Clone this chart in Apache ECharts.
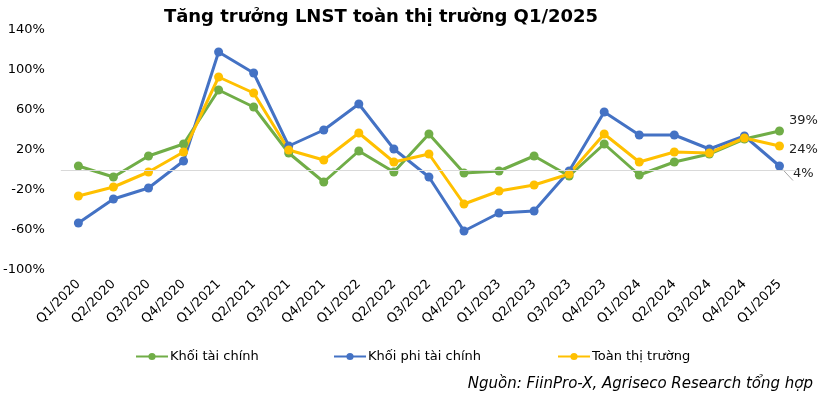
<!DOCTYPE html>
<html><head><meta charset="utf-8">
<script src="https://cdn.jsdelivr.net/npm/echarts@6/dist/echarts.min.js"></script>
<style>html,body{margin:0;padding:0;background:#fff}#c{width:825px;height:397px}</style>
</head><body><div id="c"></div>
<script>
const categories = ["Q1/2020","Q2/2020","Q3/2020","Q4/2020","Q1/2021","Q2/2021","Q3/2021","Q4/2021","Q1/2022","Q2/2022","Q3/2022","Q4/2022","Q1/2023","Q2/2023","Q3/2023","Q4/2023","Q1/2024","Q2/2024","Q3/2024","Q4/2024","Q1/2025"];
const taiChinh = [4, -7, 14, 26, 80, 63, 17, -12, 19, -2, 36, -3, -1, 14, -6, 26, -5, 8, 16, 31, 39];
const phiTaiChinh = [-53, -29, -18, 9, 118, 97, 24, 40, 66, 21, -7, -61, -43, -41, -1, 58, 35, 35, 21, 34, 4];
const toanThiTruong = [-26, -17, -2, 18, 93, 77, 20, 10, 37, 8, 16, -34, -21, -15, -4, 36, 8, 18, 17, 32, 24];
const seriesNames = ['Khối tài chính', 'Khối phi tài chính', 'Toàn thị trường'];

const FONT = "DejaVu Sans";
function withLastLabel(arr, offset, line) {
  return arr.map((v, i) => {
    if (i !== arr.length - 1) return v;
    return {
      value: v,
      label: { show: true, position: 'right', offset: offset, formatter: v + '%', color: '#222', fontSize: 13, fontFamily: FONT },
      labelLine: line ? { show: true, lineStyle: { color: '#a6a6a6', width: 1 } } : { show: false }
    };
  });
}
function series(name, data, color, offset, line) {
  return {
    name, type: 'line', data: withLastLabel(data, offset, line),
    symbol: 'circle', symbolSize: 9,
    lineStyle: { width: 3, color }, itemStyle: { color },
    label: { show: false }
  };
}
const s1 = series(seriesNames[0], taiChinh, '#70ad47', [0, -10], false);
const s2 = series(seriesNames[1], phiTaiChinh, '#4472c4', [4, 8], true);
const s3 = series(seriesNames[2], toanThiTruong, '#ffc000', [0, 4], false);
s1.markLine = { silent: true, symbol: 'none', label: { show: false }, lineStyle: { color: '#d9d9d9', width: 1, type: 'solid' }, data: [{ yAxis: 0 }] };

function legendAt(left, name) {
  return {
    bottom: 29, left: left, itemWidth: 32, itemHeight: 9, itemGap: 0,
    textStyle: { fontFamily: FONT, fontSize: 13, color: '#000', padding: [0, 0, 0, -3] },
    data: [name]
  };
}

const chart = echarts.init(document.getElementById('c'), null, { renderer: 'canvas' });
chart.setOption({
  animation: false,
  title: { text: 'Tăng trưởng LNST toàn thị trường Q1/2025', left: 376, textAlign: 'center', top: 3,
    textStyle: { fontFamily: FONT, fontSize: 18, fontWeight: 'bold', color: '#000' } },
  grid: { left: 57, right: 28, top: 30, bottom: 127, containLabel: false },
  legend: [legendAt(130, seriesNames[0]), legendAt(328, seriesNames[1]), legendAt(552, seriesNames[2])],
  graphic: [{ type: 'text', right: 12, bottom: 5, style: { text: 'Nguồn: FiinPro-X, Agriseco Research tổng hợp', font: 'italic 15px "DejaVu Sans"', fill: '#000' } }],
  xAxis: {
    type: 'category', data: categories, boundaryGap: true,
    axisLine: { show: false }, axisTick: { show: false },
    axisLabel: { rotate: 45, fontFamily: FONT, fontSize: 13, color: '#000', margin: 12, interval: 0 }
  },
  yAxis: {
    type: 'value', min: -100, max: 140, interval: 40,
    axisLine: { show: false }, axisTick: { show: false }, splitLine: { show: false },
    axisLabel: { formatter: v => v + '%', fontFamily: FONT, fontSize: 13, color: '#000', margin: 16 }
  },
  series: [s1, s2, s3]
});
</script></body></html>
